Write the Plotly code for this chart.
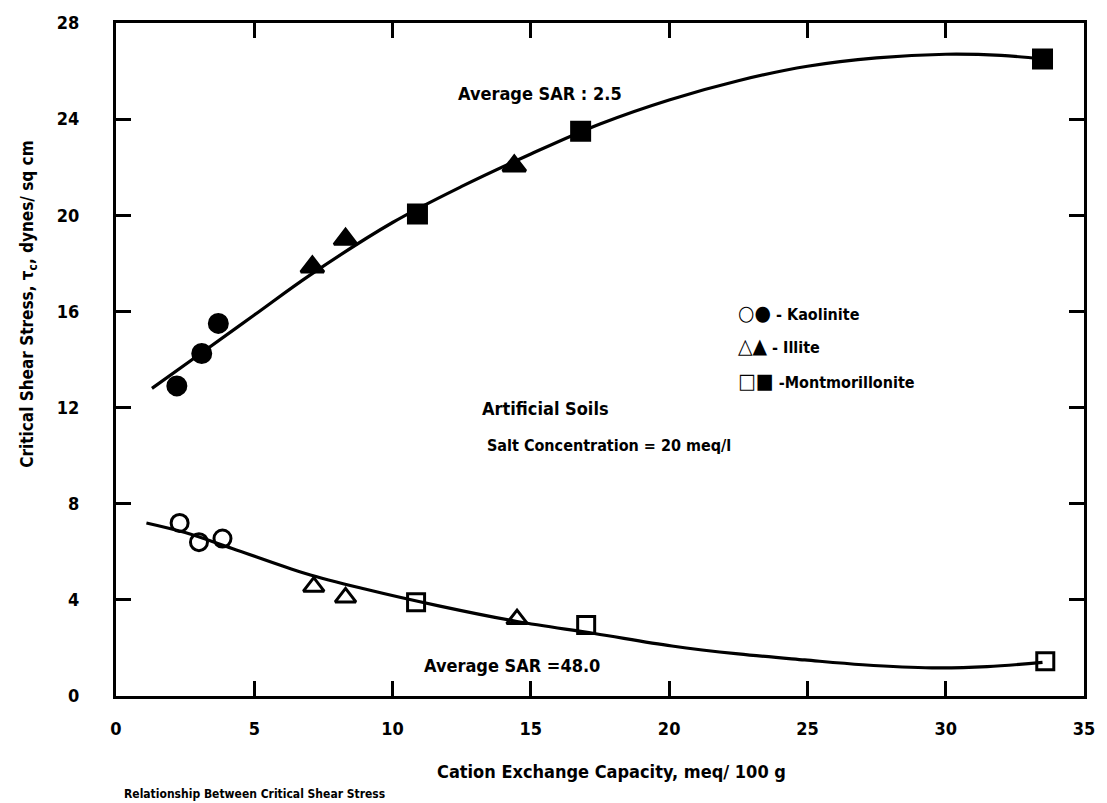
import plotly.graph_objects as go

# Critical shear stress of artificial soils vs. cation exchange capacity
# Low SAR (2.5) series: filled markers
cec_kaol_hi = [2.2, 3.1, 3.7]
tau_kaol_hi = [12.9, 14.25, 15.5]
cec_illite_hi = [7.1, 8.3, 14.4]
tau_illite_hi = [17.85, 19.0, 22.05]
cec_mont_hi = [10.9, 16.8, 33.5]
tau_mont_hi = [20.05, 23.5, 26.5]

# High SAR (48.0) series: open markers
cec_kaol_lo = [2.3, 3.0, 3.85]
tau_kaol_lo = [7.2, 6.4, 6.55]
cec_illite_lo = [7.15, 8.3, 14.5]
tau_illite_lo = [4.55, 4.1, 3.2]
cec_mont_lo = [10.85, 17.0, 33.6]
tau_mont_lo = [3.9, 2.95, 1.45]

# Hand-drawn trend curves
curve_hi_x = [1.3, 3, 5, 7, 10, 12.5, 15, 17.5, 20, 22.5, 25, 27.5, 30, 32, 33.5]
curve_hi_y = [12.8, 14.2, 15.85, 17.5, 19.7, 21.2, 22.55, 23.8, 24.8, 25.6, 26.2, 26.55, 26.7, 26.65, 26.5]
curve_lo_x = [1.1, 2.5, 4.2, 6.85, 9, 11.67, 14.5, 17.3, 20.1, 22.5, 24.9, 27, 29.5, 31.5, 33.5]
curve_lo_y = [7.2, 6.8, 6.14, 5.1, 4.45, 3.75, 3.1, 2.6, 2.08, 1.75, 1.5, 1.3, 1.17, 1.22, 1.4]

x_ticks = [0, 5, 10, 15, 20, 25, 30, 35]
y_ticks = [0, 4, 8, 12, 16, 20, 24, 28]

FONT = "Liberation Sans Narrow, DejaVu Sans Condensed, Arial Narrow, sans-serif"
INK = "black"

W, H = 1107, 803
L, R, T, B = 116, 1091, 21, 696


def px(x):
    return (x - L) / (R - L)


def py(y):
    return (B - y) / (B - T)


fig = go.Figure()

for cx, cy in [(curve_hi_x, curve_hi_y), (curve_lo_x, curve_lo_y)]:
    fig.add_trace(go.Scatter(
        x=cx, y=cy, mode="lines",
        line=dict(color=INK, width=3.2, shape="spline", smoothing=1.0),
        hoverinfo="skip", showlegend=False))

series = [
    (cec_kaol_hi, tau_kaol_hi, "circle", 18),
    (cec_illite_hi, tau_illite_hi, "triangle-up", 20),
    (cec_mont_hi, tau_mont_hi, "square", 18),
    (cec_kaol_lo, tau_kaol_lo, "circle-open", 17),
    (cec_illite_lo, tau_illite_lo, "triangle-up-open", 18),
    (cec_mont_lo, tau_mont_lo, "square-open", 17),
]
for sx, sy, sym, size in series:
    fig.add_trace(go.Scatter(
        x=sx, y=sy, mode="markers",
        marker=dict(symbol=sym, size=size, color=INK,
                    line=dict(color=INK, width=3)),
        showlegend=False))

axis_common = dict(
    showline=True, linecolor=INK, linewidth=3, mirror="ticks",
    ticks="inside", ticklen=15, tickwidth=3, tickcolor=INK,
    showgrid=False, zeroline=False,
    tickfont=dict(family=FONT, size=18, color=INK, weight="bold"),
)

fig.update_xaxes(range=[0, 35], tickvals=x_ticks, ticktext=[str(v) for v in x_ticks],
                 ticklabelstandoff=14, **axis_common)
fig.update_yaxes(range=[0, 28], tickvals=y_ticks, ticktext=[str(v) for v in y_ticks],
                 ticklabelstandoff=30, **axis_common)


def label(text, x, y, size=17, xanchor="center", angle=0):
    fig.add_annotation(
        text=text, x=px(x), y=py(y), xref="paper", yref="paper",
        xanchor=xanchor, yanchor="middle", showarrow=False, textangle=angle,
        font=dict(family=FONT, size=size, color=INK, weight="bold"))


def key(symbols, name, y):
    label(f"<span style='font-size:21px'>{symbols}</span> {name}", 740, y,
          size=16, xanchor="left")


label("Average SAR : 2.5", 543, 92, size=18)
label("Average SAR =48.0", 515, 665, size=18)
label("Artificial Soils", 483, 408, size=18, xanchor="left")
label("Salt Concentration = 20 meq/l", 488, 445, size=16, xanchor="left")
key("○●", "- Kaolinite", 312)
key("△▲", "- Illite", 345)
key("□■", "-Montmorillonite", 380)
label("Cation Exchange Capacity, meq/ 100 g", 615, 772, size=18)
label("Critical Shear Stress, τ<sub>c</sub>, dynes/ sq cm", 28, 303, size=17, angle=-90)
label("Relationship Between Critical Shear Stress", 122, 794, size=12, xanchor="left")

fig.update_layout(
    width=W, height=H,
    margin=dict(l=L, r=W - R, t=T, b=H - B),
    paper_bgcolor="white", plot_bgcolor="white",
    showlegend=False,
)

fig.write_html("out.html")
